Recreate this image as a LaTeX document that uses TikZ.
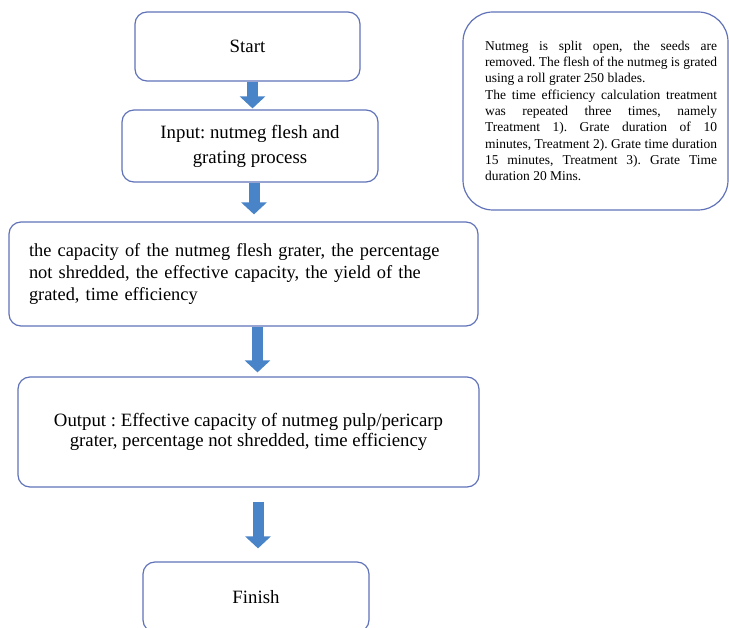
\documentclass[tikz,border=0pt]{standalone}
\usepackage{fontspec}
\setmainfont{Liberation Serif}
\usepackage{tikz}
\usetikzlibrary{shapes,arrows,arrows.meta,positioning,calc}
\definecolor{boxline}{RGB}{96,114,184}
\definecolor{arrowfill}{RGB}{72,132,199}
\tikzset{
  flow_box/.style = {rectangle, rounded corners=12pt, draw=boxline, line width=1.2pt, align=center, inner sep=0pt, font=\fontsize{18.8pt}{22pt}\selectfont},
  note_box/.style = {rectangle, rounded corners=30pt, draw=boxline, line width=1.2pt, inner xsep=11pt, inner ysep=0pt, minimum width=265pt, minimum height=198pt, font=\fontsize{13.5pt}{16.3pt}\selectfont},
  flow_arr/.style = {line width=11pt, draw=arrowfill, -{Triangle[width=25pt,length=12pt]}}
}
\frenchspacing
\hbadness=10000

\begin{document}
\begin{tikzpicture}[x=1pt,y=-1pt]
  \clip (0,0) rectangle (729,628);
  \node [flow_box, minimum width=225pt, minimum height=69pt] (start) at (247.5,46.5) {Start};
  \node [flow_box, minimum width=256pt, minimum height=72pt, font=\fontsize{18.8pt}{25pt}\selectfont] (input) at (250,146) {Input: nutmeg flesh and\\grating process};
  \node [flow_box, minimum width=469pt, minimum height=104pt, align=left, text width=429pt, font=\fontsize{18.4pt}{22pt}\selectfont] (params) at (243.5,274)
    {the capacity of the nutmeg flesh grater, the percentage\\not shredded, the effective capacity, the yield of the\\grated, time efficiency};
  \node [flow_box, minimum width=461pt, minimum height=110pt, font=\fontsize{18.8pt}{20.5pt}\selectfont] (output) at (248.5,432)
    {Output : Effective capacity of nutmeg pulp/pericarp\\grater, percentage not shredded, time efficiency};
  \node [flow_box, minimum width=226pt, minimum height=70pt] (finish) at (256,597) {Finish};
  % note on the grating treatments
  \node [note_box] (note) at (595.5,111) {\hspace*{11pt}\parbox{232pt}{Nutmeg is split open, the seeds are\linebreak
    removed. The flesh of the nutmeg is grated\linebreak
    using a roll grater 250 blades.\par
    The time efficiency calculation treatment\linebreak
    was repeated three times, namely\linebreak
    Treatment 1). Grate duration of 10\linebreak
    minutes, Treatment 2). Grate time duration\linebreak
    15 minutes, Treatment 3). Grate Time\linebreak
    duration 20 Mins.}};

  \draw [flow_arr, shorten >=1pt] ([xshift=5pt]start.south) -- ([xshift=5pt]start.south |- input.north);
  \draw [flow_arr, shorten >=7pt] ([xshift=4pt]input.south) -- ([xshift=4pt]input.south |- params.north);
  \draw [flow_arr, shorten >=4pt] ([xshift=14pt]params.south) -- ([xshift=14pt]params.south |- output.north);
  \draw [flow_arr, shorten <=14pt, shorten >=13pt] ([xshift=9.5pt]output.south) -- ([xshift=9.5pt]output.south |- finish.north);
\end{tikzpicture}
\end{document}
